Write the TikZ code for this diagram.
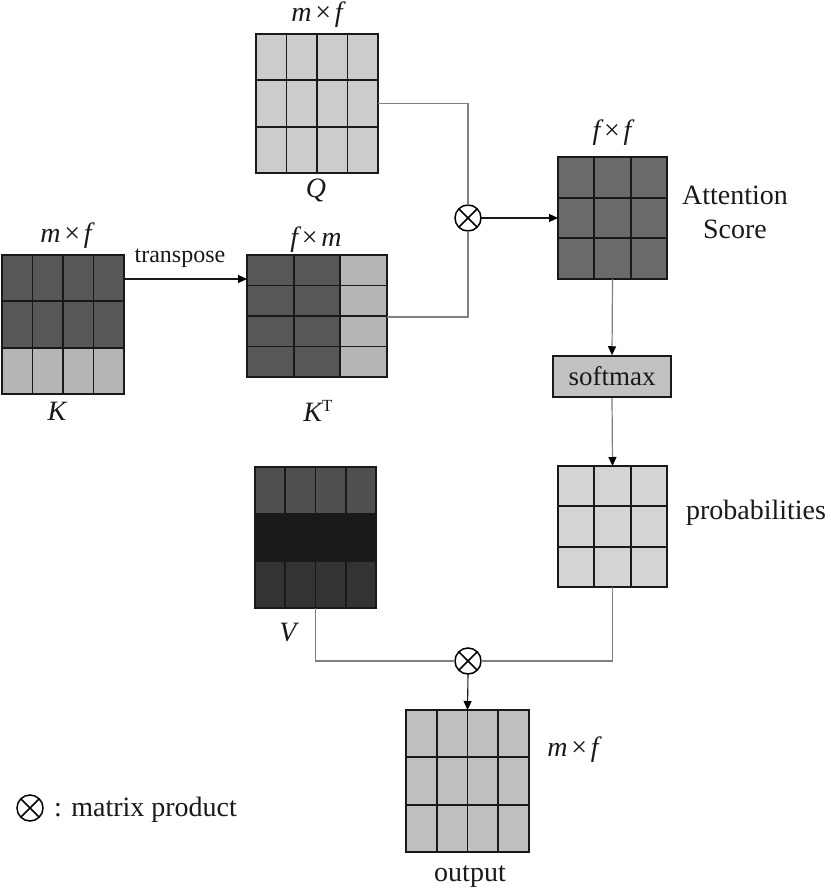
\documentclass[tikz,border=0pt]{standalone}
\usepackage{fontspec}
\setmainfont{Liberation Serif}
\usetikzlibrary{calc,arrows.meta}
\definecolor{qgray}{gray}{0.80}
\definecolor{kdark}{gray}{0.34}
\definecolor{klight}{gray}{0.71}
\definecolor{agray}{gray}{0.42}
\definecolor{sgray}{gray}{0.76}
\definecolor{pgray}{gray}{0.83}
\definecolor{vone}{gray}{0.31}
\definecolor{vtwo}{gray}{0.10}
\definecolor{vthree}{gray}{0.20}
\definecolor{ogray}{gray}{0.75}
\definecolor{inkc}{gray}{0.10}
\newcommand\matgrid[3]{%
  \foreach \fr in {#2} \draw[gridline] ($(#1.north west)!\fr!(#1.north east)$) -- ($(#1.south west)!\fr!(#1.south east)$);
  \foreach \fr in {#3} \draw[gridline] ($(#1.north west)!\fr!(#1.south west)$) -- ($(#1.north east)!\fr!(#1.south east)$);
  \draw[border] (#1.north west) rectangle (#1.south east);
}
\newcommand\otimesmark[1]{\draw[otl] (#1.45) -- (#1.225) (#1.135) -- (#1.315);}
\newcommand\dims[2]{#1\hspace{0.13em}{\upshape ×}\hspace{0.13em}#2}
\begin{document}
\begin{tikzpicture}[x=1pt,y=-1pt,
  mat/.style={rectangle, inner sep=0pt, outer sep=0pt},
  gridline/.style={line width=1.8pt, draw=inkc},
  border/.style={line width=2pt, draw=inkc},
  conn/.style={draw=black!50, line width=1.2pt},
  garr/.style={conn, -{Triangle[length=9pt,width=8pt,color=black]}},
  arr/.style={draw=inkc, line width=1.1pt, -{Triangle[length=9pt,width=8pt,color=black]}},
  otimes/.style={circle, draw=black, line width=1.5pt, fill=white, minimum size=26pt, inner sep=0pt, outer sep=0pt},
  otl/.style={line width=1.5pt, draw=black},
  lbl/.style={font=\fontsize{28}{34}\selectfont, text=inkc, inner sep=0pt},
  ital/.style={font=\fontsize{28}{30}\selectfont\itshape, text=inkc, inner sep=0pt},
  sbox/.style={rectangle, draw=inkc, line width=1.5pt, fill=sgray, minimum width=118pt, minimum height=41pt, inner sep=0pt, font=\fontsize{27}{30}\selectfont, text=inkc}
]
\useasboundingbox (0,0) rectangle (830,894);
\fill[white] (0,0) rectangle (830,894);

% K
\node[mat, fill=kdark, minimum width=122pt, minimum height=139pt] (K) at (63,324.5) {};
\fill[klight] ($(K.south west)!0.3333!(K.north west)$) rectangle (K.south east);
\matgrid{K}{0.25,0.5,0.75}{0.3333,0.6667}

% Q
\node[mat, fill=qgray, minimum width=122pt, minimum height=139pt] (Q) at (317,103.5) {};
\matgrid{Q}{0.25,0.5,0.75}{0.3333,0.6667}

% K^T
\node[mat, fill=kdark, minimum width=140pt, minimum height=122pt] (KT) at (317,316) {};
\fill[klight] ($(KT.north west)!0.6667!(KT.north east)$) rectangle (KT.south east);
\matgrid{KT}{0.3333,0.6667}{0.25,0.5,0.75}

% Attention score
\node[mat, fill=agray, minimum width=109pt, minimum height=122pt] (A) at (612.5,218) {};
\matgrid{A}{0.3333,0.6667}{0.3333,0.6667}

% softmax
\node[sbox] (S) at (612,376.5) {softmax};

% probabilities
\node[mat, fill=pgray, minimum width=109pt, minimum height=121pt] (P) at (612.5,526.5) {};
\matgrid{P}{0.3333,0.6667}{0.3333,0.6667}

% V
\node[mat, fill=vone, minimum width=121pt, minimum height=141pt] (V) at (315.5,537.5) {};
\fill[vtwo] ($(V.north west)!0.3333!(V.south west)$) rectangle ($(V.north east)!0.6667!(V.south east)$);
\fill[vthree] ($(V.north west)!0.6667!(V.south west)$) rectangle (V.south east);
\matgrid{V}{0.25,0.5,0.75}{0.3333,0.6667}

% output
\node[mat, fill=ogray, minimum width=123pt, minimum height=142pt] (O) at (467.5,781) {};
\matgrid{O}{0.25,0.5,0.75}{0.3333,0.6667}

% product nodes
\node[otimes] (X1) at (468,218) {};
\node[otimes] (X2) at (468,661) {};

% connectors
\draw[arr] ($(K.north east)+(0,24)$) -- ($(KT.north west)+(0,24)$);
\draw[conn] (Q.east) -| (X1.north);
\draw[conn] ($(KT.east)+(0,1)$) -| (X1.south);
\draw[arr] (X1.east) -- (A.west);
\draw[garr] (A.south) -- (S.north);
\draw[garr] (S.south) -- (P.north);
\draw[conn] (P.south) |- (X2.east);
\draw[conn] (V.south) |- (X2.west);
\draw[arr] (X2.south) -- (O.north);
\otimesmark{X1}
\otimesmark{X2}

% labels
\node[ital] (Kdim) at (66,236) {\dims mf};
\node[ital] (Klbl) at (57,411) {K};
\node[ital] (Qdim) at (317,15) {\dims mf};
\node[ital] (Qlbl) at (316,190) {Q};
\node[ital] (KTdim) at (316,240) {\dims fm};
\node[ital] (KTlbl) at (318,411) {K\raisebox{.75ex}{\upshape\fontsize{17}{17}\selectfont T}};
\node[lbl, font=\fontsize{24}{26}\selectfont] (tp) at (180,258) {transpose};
\node[ital] (Adim) at (612,133) {\dims ff};
\node[lbl, align=center] (Atxt) at (735,212) {Attention\\Score};
\node[lbl] (Ptxt) at (756,513) {probabilities};
\node[ital] (Vlbl) at (288,633) {V};
\node[ital] (Odim) at (573,750) {\dims mf};
\node[lbl] (Otxt) at (470,877) {output};

% legend
\node[otimes] (XL) at (30,808) {};
\otimesmark{XL}
\node[lbl, anchor=west] (leg) at (54,810) {: matrix product};
\end{tikzpicture}
\end{document}
